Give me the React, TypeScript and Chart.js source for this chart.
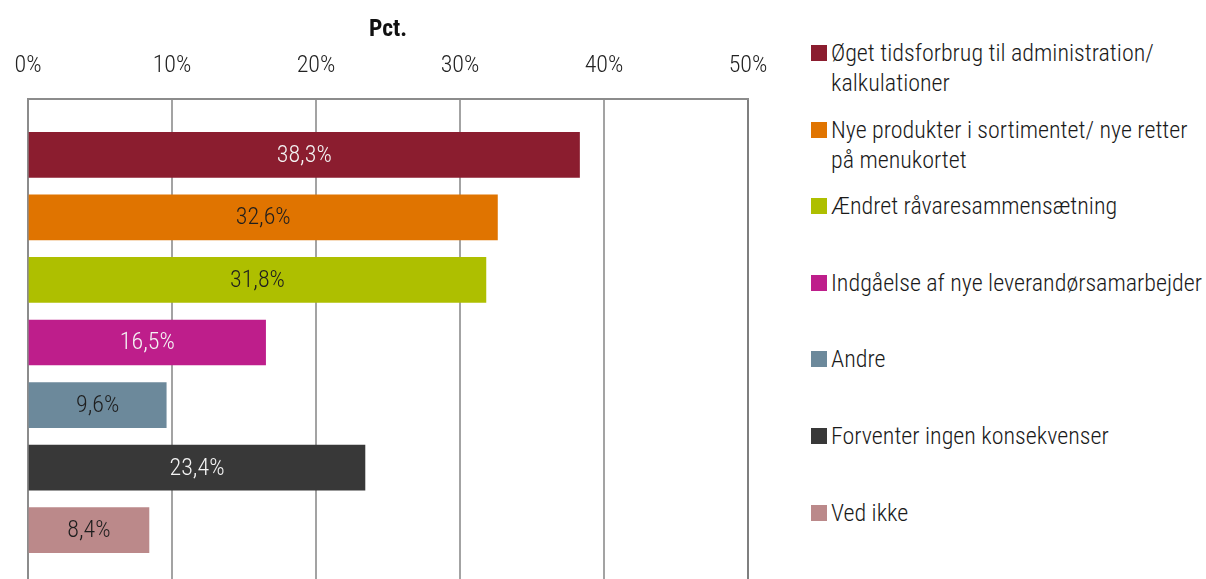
import React, { useEffect, useRef } from "react";
import { Chart, registerables } from "chart.js";

Chart.register(...registerables);

const FONT = "'Roboto Condensed', 'DejaVu Sans Condensed', sans-serif";

const categories = [
  "Øget tidsforbrug til administration/ kalkulationer",
  "Nye produkter i sortimentet/ nye retter på menukortet",
  "Ændret råvaresammensætning",
  "Indgåelse af nye leverandørsamarbejder",
  "Andre",
  "Forventer ingen konsekvenser",
  "Ved ikke",
];
const legendLines = [
  ["Øget tidsforbrug til administration/", "kalkulationer"],
  ["Nye produkter i sortimentet/ nye retter", "på menukortet"],
  ["Ændret råvaresammensætning"],
  ["Indgåelse af nye leverandørsamarbejder"],
  ["Andre"],
  ["Forventer ingen konsekvenser"],
  ["Ved ikke"],
];
const values = [38.3, 32.6, 31.8, 16.5, 9.6, 23.4, 8.4];
const colors = ["#8B1D2F", "#E07400", "#AEBF00", "#BE1E8B", "#6C899B", "#383838", "#BB898A"];
const labelColors = ["#F4F4F4", "#1E1E1E", "#1E1E1E", "#F4F4F4", "#1E1E1E", "#F4F4F4", "#1E1E1E"];
const xTickValues = [0, 10, 20, 30, 40, 50];
const axisTitle = "Pct.";

const barLabels = {
  id: "barLabels",
  afterDatasetsDraw(chart: any) {
    const ctx = chart.ctx;
    const meta = chart.getDatasetMeta(0);
    meta.data.forEach((bar: any, i: number) => {
      const { x, y, base } = bar.getProps(["x", "y", "base"], true);
      ctx.save();
      ctx.font = `300 24px ${FONT}`;
      ctx.fillStyle = labelColors[i];
      ctx.textAlign = "center";
      ctx.textBaseline = "middle";
      ctx.fillText(values[i].toFixed(1).replace(".", ",") + "%", (x + base) / 2, y + 1);
      ctx.restore();
    });
  },
};

export default function App() {
  const ref = useRef<HTMLCanvasElement | null>(null);

  useEffect(() => {
    if (!ref.current) return;
    const chart = new Chart(ref.current, {
      type: "bar",
      data: {
        labels: categories,
        datasets: [
          {
            label: "Pct.",
            data: values.map((v, i) => ({ x: v, y: i })) as any,
            backgroundColor: colors,
            borderWidth: 0,
            barThickness: 45,
          },
        ],
      },
      options: {
        indexAxis: "y",
        responsive: false,
        animation: false,
        layout: { padding: { left: 28, right: 32, top: 0, bottom: 0 } },
        plugins: { legend: { display: false }, tooltip: { enabled: false } },
        scales: {
          x: {
            type: "linear",
            position: "top",
            min: 0,
            max: 50,
            afterBuildTicks: (scale: any) => {
              scale.ticks = xTickValues.map((v) => ({ value: v }));
            },
            ticks: {
              callback: (v: any) => v + "%",
              font: { family: FONT, size: 24, weight: 300, lineHeight: "46px" },
              color: "#222222",
              padding: 10,
              maxRotation: 0,
            },
            grid: {
              color: (c: any) => (c.tick && c.tick.value === 50 ? "#7F7F7F" : "#A3A3A3"),
              lineWidth: 2,
              drawTicks: false,
            },
            border: { color: "#8C8C8C", width: 2 },
            title: {
              display: true,
              text: axisTitle,
              font: { family: FONT, size: 23.5, weight: "bold", lineHeight: "5px" },
              color: "#111111",
              padding: { top: 27.5, bottom: 0 },
            },
          },
          y: {
            type: "linear",
            reverse: true,
            offset: false,
            min: -0.9,
            max: 7.1,
            ticks: { display: false },
            grid: { display: false, drawTicks: false, offset: false },
            border: { color: "#8C8C8C", width: 2 },
          },
        },
      } as any,
      plugins: [barLabels],
    });
    return () => chart.destroy();
  }, []);

  return (
    <div
      style={{
        position: "fixed",
        left: 0,
        top: 0,
        width: 1206,
        height: 579,
        overflow: "hidden",
        background: "#fff",
      }}
    >
      <canvas ref={ref} width={780} height={599} style={{ position: "absolute", left: 0, top: 0 }} />
      {legendLines.map((lines, i) => {
        const center = 53 + 76.6 * i;
        return (
          <div key={i} style={{ position: "absolute", left: 811, top: center - 15, width: 395 }}>
            <div
              style={{
                position: "absolute",
                left: 0,
                top: 7,
                width: 16,
                height: 16,
                background: colors[i],
              }}
            />
            <div
              style={{
                position: "absolute",
                left: 20,
                top: 0,
                fontFamily: FONT,
                fontSize: 24,
                fontWeight: 300,
                lineHeight: "30px",
                color: "#1A1A1A",
                whiteSpace: "nowrap",
              }}
            >
              {lines.map((l, j) => (
                <div key={j}>{l}</div>
              ))}
            </div>
          </div>
        );
      })}
    </div>
  );
}
